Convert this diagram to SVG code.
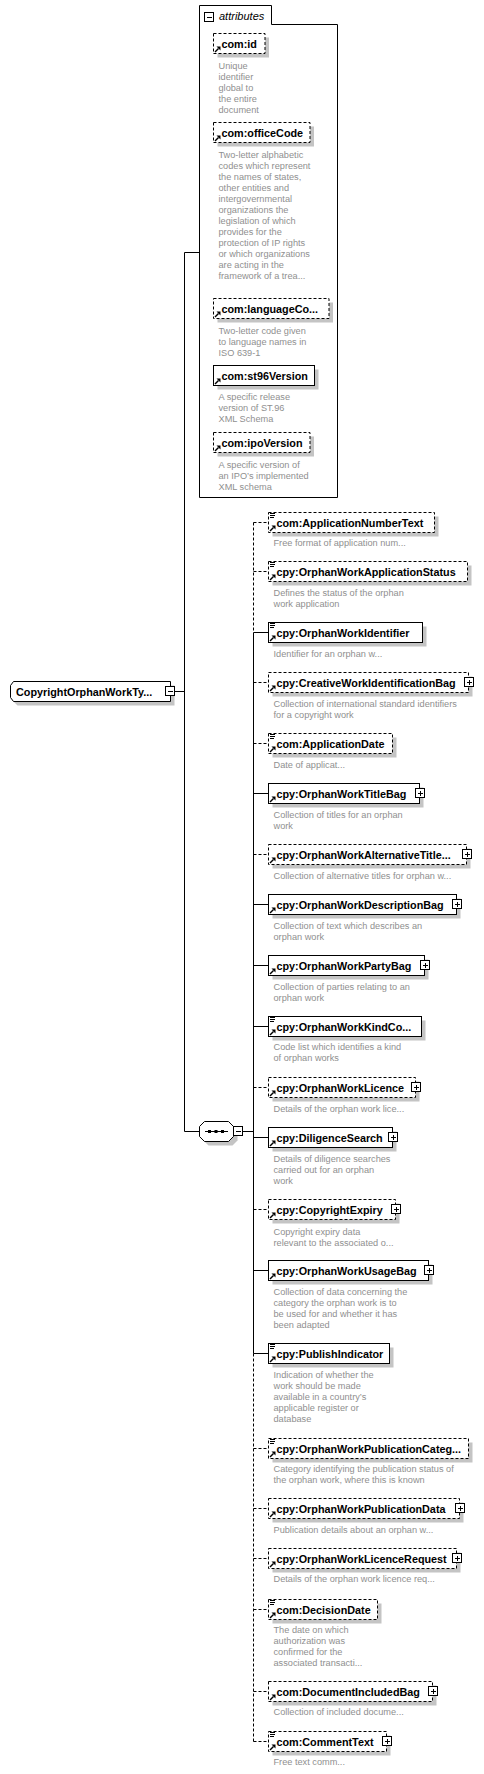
<svg xmlns="http://www.w3.org/2000/svg" xmlns:xlink="http://www.w3.org/1999/xlink" width="484" height="1774" viewBox="0 0 484 1774">
<style>
.box{fill:#fff;stroke:#000;stroke-width:1}
.opt{stroke-dasharray:3,2}
.sh{fill:#c4c4c4}
.nm{font-family:"Liberation Sans",Arial,sans-serif;font-weight:bold;font-size:10.8px;fill:#000}
.ds{font-family:"Liberation Sans",Arial,sans-serif;font-size:9.2px;fill:#8f8f8f}
.it{font-family:"Liberation Sans",Arial,sans-serif;font-style:italic;font-size:11px;fill:#000}
.ln{stroke:#000;stroke-width:1;fill:none}
.dl{stroke-dasharray:3,2}
.ic{stroke:#000;stroke-width:1;fill:none;shape-rendering:crispEdges}
</style>
<defs>
<g id="eq"><path class="ic" d="M1,1H6M1,3H6M1,5H5"/></g>
<g id="ar"><path d="M1.5,18.5L5,15" stroke="#000" stroke-width="1.5" fill="none"/><polygon points="3,13 7,13 7,17" fill="#000"/></g>
<g id="plus"><rect x="0" y="0" width="9" height="9" fill="#fff" stroke="#000"/><path class="ic" d="M2,4.5H7M4.5,2V7"/></g>
<g id="minus"><rect x="0" y="0" width="9" height="9" fill="#fff" stroke="#000"/><path class="ic" d="M2,4.5H7"/></g>
</defs>

<g id="connectors">
<path class="ln" d="M184.5,252.5V1131.5M184.5,252.5H199.5M174.5,691.5H184.5M184.5,1131.5H199.5M242.5,1131.5H253.5"/>
<path class="ln dl" d="M253.5,522.5V632.5"/>
<path class="ln" d="M253.5,632.5V1353.5"/>
<path class="ln dl" d="M253.5,1353.5V1741.5"/>
<path class="ln dl" d="M253.5,522.5H268.5M253.5,571.5H268.5M253.5,682.5H268.5M253.5,743.5H268.5M253.5,854.5H268.5M253.5,1087.5H268.5M253.5,1209.5H268.5M253.5,1448.5H268.5M253.5,1508.5H268.5M253.5,1558.5H268.5M253.5,1609.5H268.5M253.5,1691.5H268.5M253.5,1741.5H268.5"/>
<path class="ln" d="M253.5,632.5H268.5M253.5,793.5H268.5M253.5,904.5H268.5M253.5,965.5H268.5M253.5,1026.5H268.5M253.5,1137.5H268.5M253.5,1270.5H268.5M253.5,1353.5H268.5"/>
</g>

<g id="root">
<path class="sh" d="M17.5,685.5H174.5V705.5H17.5L14.5,702.5V688.5Z"/>
<path class="box" d="M13.5,681.5H170.5V701.5H13.5L10.5,697.5V685.5Z"/>
<text class="nm" x="16" y="695.5">CopyrightOrphanWorkTy...</text>
<use href="#minus" x="165.5" y="686.5"/>
</g>

<g id="attributes">
<path class="box" d="M199.5,497.5V5.5H271.5V24.5H337.5V497.5Z" fill="none"/>
<use href="#minus" x="204.5" y="12.5"/>
<text class="it" x="219" y="20">attributes</text>
</g>

<g id="a-id">
<rect class="sh" x="217.5" y="37.5" width="51.5" height="20"/>
<rect class="box opt" x="213.5" y="33.5" width="51.5" height="20"/>
<use href="#ar" x="213.5" y="33.5"/>
<text class="nm" x="221.5" y="47.5">com:id</text>
<text class="ds" x="218.5" y="68.5">Unique</text>
<text class="ds" x="218.5" y="79.5">identifier</text>
<text class="ds" x="218.5" y="90.5">global to</text>
<text class="ds" x="218.5" y="101.5">the entire</text>
<text class="ds" x="218.5" y="112.5">document</text>
</g>

<g id="a-officeCode">
<rect class="sh" x="217.5" y="126.5" width="96.5" height="20"/>
<rect class="box opt" x="213.5" y="122.5" width="96.5" height="20"/>
<use href="#ar" x="213.5" y="122.5"/>
<text class="nm" x="221.5" y="136.5">com:officeCode</text>
<text class="ds" x="218.5" y="158">Two-letter alphabetic</text>
<text class="ds" x="218.5" y="169">codes which represent</text>
<text class="ds" x="218.5" y="180">the names of states,</text>
<text class="ds" x="218.5" y="191">other entities and</text>
<text class="ds" x="218.5" y="202">intergovernmental</text>
<text class="ds" x="218.5" y="213">organizations the</text>
<text class="ds" x="218.5" y="224">legislation of which</text>
<text class="ds" x="218.5" y="235">provides for the</text>
<text class="ds" x="218.5" y="246">protection of IP rights</text>
<text class="ds" x="218.5" y="257">or which organizations</text>
<text class="ds" x="218.5" y="268">are acting in the</text>
<text class="ds" x="218.5" y="279">framework of a trea...</text>
</g>

<g id="a-languageCode">
<rect class="sh" x="217.5" y="302.5" width="115.5" height="20"/>
<rect class="box opt" x="213.5" y="298.5" width="115.5" height="20"/>
<use href="#ar" x="213.5" y="298.5"/>
<text class="nm" x="221.5" y="312.5">com:languageCo...</text>
<text class="ds" x="218.5" y="333.5">Two-letter code given</text>
<text class="ds" x="218.5" y="344.5">to language names in</text>
<text class="ds" x="218.5" y="355.5">ISO 639-1</text>
</g>

<g id="a-st96Version">
<rect class="sh" x="217.5" y="369.5" width="101" height="20"/>
<rect class="box" x="213.5" y="365.5" width="101" height="20"/>
<use href="#ar" x="213.5" y="365.5"/>
<text class="nm" x="221.5" y="379.5">com:st96Version</text>
<text class="ds" x="218.5" y="400">A specific release</text>
<text class="ds" x="218.5" y="411">version of ST.96</text>
<text class="ds" x="218.5" y="422">XML Schema</text>
</g>

<g id="a-ipoVersion">
<rect class="sh" x="217.5" y="436.5" width="96.5" height="20"/>
<rect class="box opt" x="213.5" y="432.5" width="96.5" height="20"/>
<use href="#ar" x="213.5" y="432.5"/>
<text class="nm" x="221.5" y="446.5">com:ipoVersion</text>
<text class="ds" x="218.5" y="467.5">A specific version of</text>
<text class="ds" x="218.5" y="478.5">an IPO’s implemented</text>
<text class="ds" x="218.5" y="489.5">XML schema</text>
</g>

<g id="sequence">
<path class="sh" d="M208.5,1125.5H232.5L237.5,1130.5V1140.5L232.5,1145.5H208.5L203.5,1140.5V1130.5Z"/>
<path class="box" d="M204.5,1121.5H228.5L233.5,1126.5V1136.5L228.5,1141.5H204.5L199.5,1136.5V1126.5Z"/>
<path class="ln" d="M205,1131.5H228"/>
<rect x="208" y="1130" width="3" height="3" fill="#000"/>
<rect x="214.5" y="1130" width="3" height="3" fill="#000"/>
<rect x="221" y="1130" width="3" height="3" fill="#000"/>
<use href="#minus" x="233.5" y="1126.5"/>
</g>

<g id="e-ApplicationNumberText">
<rect class="sh" x="272.5" y="516.5" width="166" height="20"/>
<rect class="box opt" x="268.5" y="512.5" width="166" height="20"/>
<use href="#eq" x="268.5" y="512.5"/><use href="#ar" x="268.5" y="512.5"/>
<text class="nm" x="276.5" y="526.5">com:ApplicationNumberText</text>
<text class="ds" x="273.5" y="546">Free format of application num...</text>
</g>

<g id="e-OrphanWorkApplicationStatus">
<rect class="sh" x="272.5" y="565.5" width="199" height="20"/>
<rect class="box opt" x="268.5" y="561.5" width="199" height="20"/>
<use href="#eq" x="268.5" y="561.5"/><use href="#ar" x="268.5" y="561.5"/>
<text class="nm" x="276.5" y="575.5">cpy:OrphanWorkApplicationStatus</text>
<text class="ds" x="273.5" y="595.5">Defines the status of the orphan</text>
<text class="ds" x="273.5" y="606.5">work application</text>
</g>

<g id="e-OrphanWorkIdentifier">
<rect class="sh" x="272.5" y="626.5" width="154" height="20"/>
<rect class="box" x="268.5" y="622.5" width="154" height="20"/>
<use href="#eq" x="268.5" y="622.5"/><use href="#ar" x="268.5" y="622.5"/>
<text class="nm" x="276.5" y="636.5">cpy:OrphanWorkIdentifier</text>
<text class="ds" x="273.5" y="656.5">Identifier for an orphan w...</text>
</g>

<g id="e-CreativeWorkIdentificationBag">
<rect class="sh" x="272.5" y="676.5" width="200" height="20"/>
<rect class="box opt" x="268.5" y="672.5" width="200" height="20"/>
<use href="#ar" x="268.5" y="672.5"/>
<text class="nm" x="276.5" y="686.5">cpy:CreativeWorkIdentificationBag</text>
<use href="#plus" x="464.5" y="677.5"/>
<text class="ds" x="273.5" y="706.5">Collection of international standard identifiers</text>
<text class="ds" x="273.5" y="717.5">for a copyright work</text>
</g>

<g id="e-ApplicationDate">
<rect class="sh" x="272.5" y="737.5" width="124" height="20"/>
<rect class="box opt" x="268.5" y="733.5" width="124" height="20"/>
<use href="#eq" x="268.5" y="733.5"/><use href="#ar" x="268.5" y="733.5"/>
<text class="nm" x="276.5" y="747.5">com:ApplicationDate</text>
<text class="ds" x="273.5" y="767.5">Date of applicat...</text>
</g>

<g id="e-OrphanWorkTitleBag">
<rect class="sh" x="272.5" y="787.5" width="151" height="20"/>
<rect class="box" x="268.5" y="783.5" width="151" height="20"/>
<use href="#ar" x="268.5" y="783.5"/>
<text class="nm" x="276.5" y="797.5">cpy:OrphanWorkTitleBag</text>
<use href="#plus" x="415.5" y="788.5"/>
<text class="ds" x="273.5" y="817.5">Collection of titles for an orphan</text>
<text class="ds" x="273.5" y="828.5">work</text>
</g>

<g id="e-OrphanWorkAlternativeTitleBag">
<rect class="sh" x="272.5" y="848.5" width="198" height="20"/>
<rect class="box opt" x="268.5" y="844.5" width="198" height="20"/>
<use href="#ar" x="268.5" y="844.5"/>
<text class="nm" x="276.5" y="858.5">cpy:OrphanWorkAlternativeTitle...</text>
<use href="#plus" x="462.5" y="849.5"/>
<text class="ds" x="273.5" y="878.5">Collection of alternative titles for orphan w...</text>
</g>

<g id="e-OrphanWorkDescriptionBag">
<rect class="sh" x="272.5" y="898.5" width="188" height="20"/>
<rect class="box" x="268.5" y="894.5" width="188" height="20"/>
<use href="#ar" x="268.5" y="894.5"/>
<text class="nm" x="276.5" y="908.5">cpy:OrphanWorkDescriptionBag</text>
<use href="#plus" x="452.5" y="899.5"/>
<text class="ds" x="273.5" y="928.5">Collection of text which describes an</text>
<text class="ds" x="273.5" y="939.5">orphan work</text>
</g>

<g id="e-OrphanWorkPartyBag">
<rect class="sh" x="272.5" y="959.5" width="156" height="20"/>
<rect class="box" x="268.5" y="955.5" width="156" height="20"/>
<use href="#ar" x="268.5" y="955.5"/>
<text class="nm" x="276.5" y="969.5">cpy:OrphanWorkPartyBag</text>
<use href="#plus" x="420.5" y="960.5"/>
<text class="ds" x="273.5" y="990">Collection of parties relating to an</text>
<text class="ds" x="273.5" y="1001">orphan work</text>
</g>

<g id="e-OrphanWorkKindCode">
<rect class="sh" x="272.5" y="1020.5" width="153" height="20"/>
<rect class="box" x="268.5" y="1016.5" width="153" height="20"/>
<use href="#eq" x="268.5" y="1016.5"/><use href="#ar" x="268.5" y="1016.5"/>
<text class="nm" x="276.5" y="1030.5">cpy:OrphanWorkKindCo...</text>
<text class="ds" x="273.5" y="1050">Code list which identifies a kind</text>
<text class="ds" x="273.5" y="1061">of orphan works</text>
</g>

<g id="e-OrphanWorkLicence">
<rect class="sh" x="272.5" y="1081.5" width="147" height="20"/>
<rect class="box opt" x="268.5" y="1077.5" width="147" height="20"/>
<use href="#ar" x="268.5" y="1077.5"/>
<text class="nm" x="276.5" y="1091.5">cpy:OrphanWorkLicence</text>
<use href="#plus" x="411.5" y="1082.5"/>
<text class="ds" x="273.5" y="1112">Details of the orphan work lice...</text>
</g>

<g id="e-DiligenceSearch">
<rect class="sh" x="272.5" y="1131.5" width="124" height="20"/>
<rect class="box" x="268.5" y="1127.5" width="124" height="20"/>
<use href="#ar" x="268.5" y="1127.5"/>
<text class="nm" x="276.5" y="1141.5">cpy:DiligenceSearch</text>
<use href="#plus" x="388.5" y="1132.5"/>
<text class="ds" x="273.5" y="1162">Details of diligence searches</text>
<text class="ds" x="273.5" y="1173">carried out for an orphan</text>
<text class="ds" x="273.5" y="1184">work</text>
</g>

<g id="e-CopyrightExpiry">
<rect class="sh" x="272.5" y="1203.5" width="127" height="20"/>
<rect class="box opt" x="268.5" y="1199.5" width="127" height="20"/>
<use href="#ar" x="268.5" y="1199.5"/>
<text class="nm" x="276.5" y="1213.5">cpy:CopyrightExpiry</text>
<use href="#plus" x="391.5" y="1204.5"/>
<text class="ds" x="273.5" y="1235">Copyright expiry data</text>
<text class="ds" x="273.5" y="1246">relevant to the associated o...</text>
</g>

<g id="e-OrphanWorkUsageBag">
<rect class="sh" x="272.5" y="1264.5" width="160" height="20"/>
<rect class="box" x="268.5" y="1260.5" width="160" height="20"/>
<use href="#ar" x="268.5" y="1260.5"/>
<text class="nm" x="276.5" y="1274.5">cpy:OrphanWorkUsageBag</text>
<use href="#plus" x="424.5" y="1265.5"/>
<text class="ds" x="273.5" y="1295">Collection of data concerning the</text>
<text class="ds" x="273.5" y="1306">category the orphan work is to</text>
<text class="ds" x="273.5" y="1317">be used for and whether it has</text>
<text class="ds" x="273.5" y="1328">been adapted</text>
</g>

<g id="e-PublishIndicator">
<rect class="sh" x="272.5" y="1347.5" width="121" height="20"/>
<rect class="box" x="268.5" y="1343.5" width="121" height="20"/>
<use href="#eq" x="268.5" y="1343.5"/><use href="#ar" x="268.5" y="1343.5"/>
<text class="nm" x="276.5" y="1357.5">cpy:PublishIndicator</text>
<text class="ds" x="273.5" y="1378">Indication of whether the</text>
<text class="ds" x="273.5" y="1389">work should be made</text>
<text class="ds" x="273.5" y="1400">available in a country’s</text>
<text class="ds" x="273.5" y="1411">applicable register or</text>
<text class="ds" x="273.5" y="1422">database</text>
</g>

<g id="e-OrphanWorkPublicationCategory">
<rect class="sh" x="272.5" y="1442.5" width="200" height="20"/>
<rect class="box opt" x="268.5" y="1438.5" width="200" height="20"/>
<use href="#eq" x="268.5" y="1438.5"/><use href="#ar" x="268.5" y="1438.5"/>
<text class="nm" x="276.5" y="1452.5">cpy:OrphanWorkPublicationCateg...</text>
<text class="ds" x="273.5" y="1471.5">Category identifying the publication status of</text>
<text class="ds" x="273.5" y="1482.5">the orphan work, where this is known</text>
</g>

<g id="e-OrphanWorkPublicationData">
<rect class="sh" x="272.5" y="1502.5" width="191" height="20"/>
<rect class="box opt" x="268.5" y="1498.5" width="191" height="20"/>
<use href="#ar" x="268.5" y="1498.5"/>
<text class="nm" x="276.5" y="1512.5">cpy:OrphanWorkPublicationData</text>
<use href="#plus" x="455.5" y="1503.5"/>
<text class="ds" x="273.5" y="1532.5">Publication details about an orphan w...</text>
</g>

<g id="e-OrphanWorkLicenceRequest">
<rect class="sh" x="272.5" y="1552.5" width="188" height="20"/>
<rect class="box opt" x="268.5" y="1548.5" width="188" height="20"/>
<use href="#ar" x="268.5" y="1548.5"/>
<text class="nm" x="276.5" y="1562.5">cpy:OrphanWorkLicenceRequest</text>
<use href="#plus" x="452.5" y="1553.5"/>
<text class="ds" x="273.5" y="1582">Details of the orphan work licence req...</text>
</g>

<g id="e-DecisionDate">
<rect class="sh" x="272.5" y="1603.5" width="109" height="20"/>
<rect class="box opt" x="268.5" y="1599.5" width="109" height="20"/>
<use href="#eq" x="268.5" y="1599.5"/><use href="#ar" x="268.5" y="1599.5"/>
<text class="nm" x="276.5" y="1613.5">com:DecisionDate</text>
<text class="ds" x="273.5" y="1632.5">The date on which</text>
<text class="ds" x="273.5" y="1643.5">authorization was</text>
<text class="ds" x="273.5" y="1654.5">confirmed for the</text>
<text class="ds" x="273.5" y="1665.5">associated transacti...</text>
</g>

<g id="e-DocumentIncludedBag">
<rect class="sh" x="272.5" y="1685.5" width="164" height="20"/>
<rect class="box opt" x="268.5" y="1681.5" width="164" height="20"/>
<use href="#ar" x="268.5" y="1681.5"/>
<text class="nm" x="276.5" y="1695.5">com:DocumentIncludedBag</text>
<use href="#plus" x="428.5" y="1686.5"/>
<text class="ds" x="273.5" y="1715">Collection of included docume...</text>
</g>

<g id="e-CommentText">
<rect class="sh" x="272.5" y="1735.5" width="118" height="20"/>
<rect class="box opt" x="268.5" y="1731.5" width="118" height="20"/>
<use href="#eq" x="268.5" y="1731.5"/><use href="#ar" x="268.5" y="1731.5"/>
<text class="nm" x="276.5" y="1745.5">com:CommentText</text>
<use href="#plus" x="382.5" y="1736.5"/>
<text class="ds" x="273.5" y="1765">Free text comm...</text>
</g>
</svg>
